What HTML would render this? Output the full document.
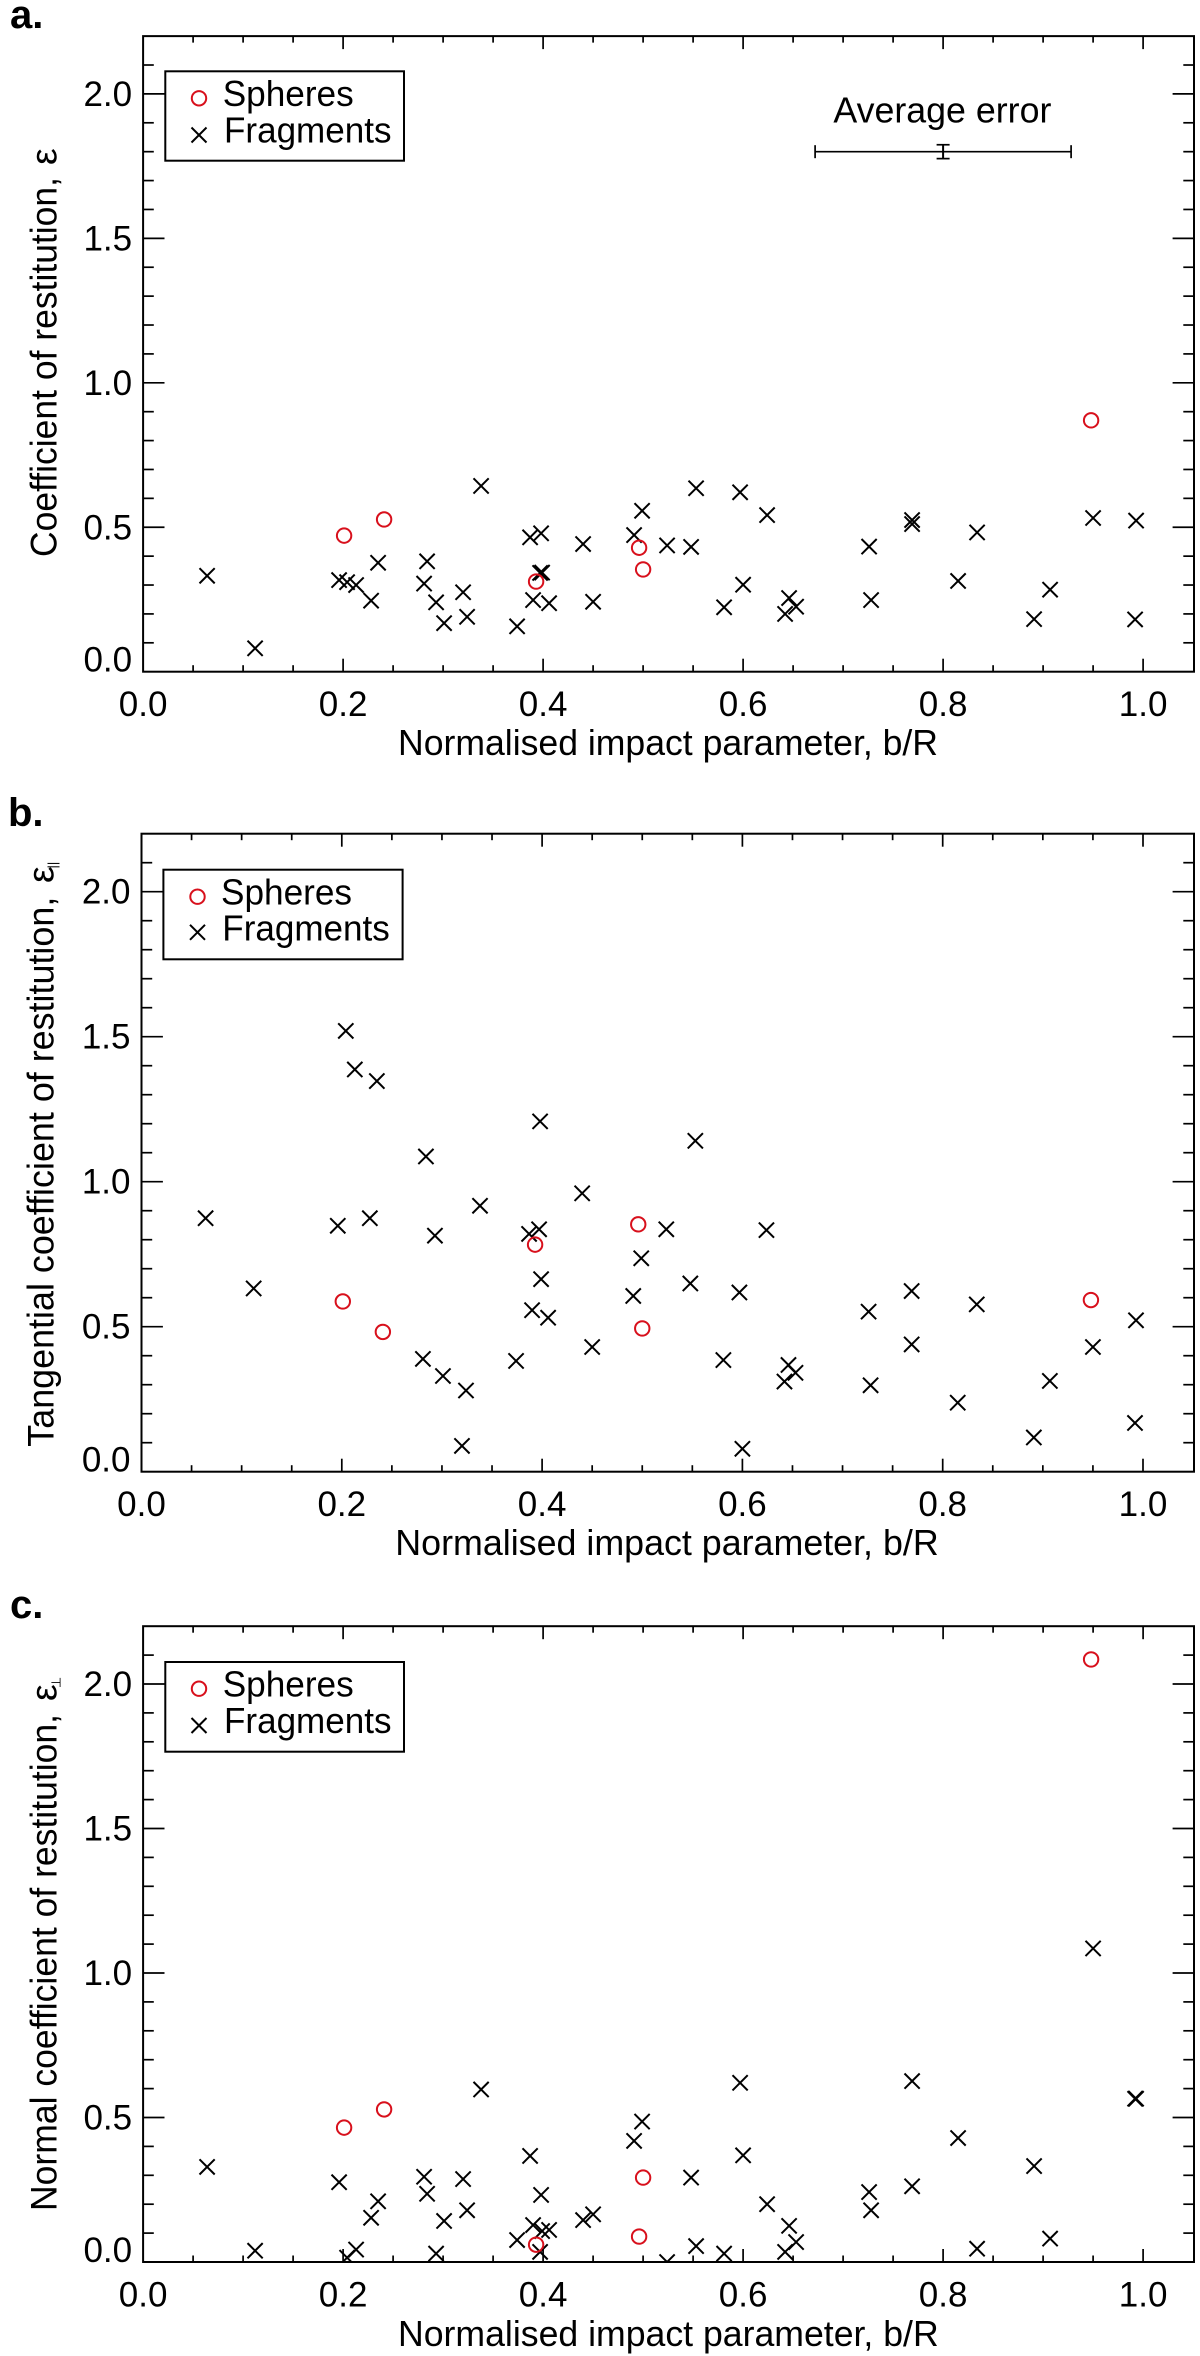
<!DOCTYPE html>
<html lang="en">
<head>
<meta charset="utf-8">
<title>Coefficient of restitution vs normalised impact parameter</title>
<style>
html,body{margin:0;padding:0;background:#fff;}
svg{display:block;}
text{font-family:"Liberation Sans","DejaVu Sans",sans-serif;fill:#000;}
</style>
</head>
<body>
<svg id="figure" xmlns="http://www.w3.org/2000/svg" width="1200" height="2356" viewBox="0 0 1200 2356">
  <rect x="0" y="0" width="1200" height="2356" fill="#fff"/>
  <defs>
    <clipPath id="clip-a"><rect x="143.1" y="35.7" width="1050.9" height="636"/></clipPath>
    <clipPath id="clip-b"><rect x="141.5" y="833.7" width="1052.5" height="638"/></clipPath>
    <clipPath id="clip-c"><rect x="143.1" y="1626.2" width="1050.9" height="635.8"/></clipPath>
  </defs>

  <text x="10" y="28" font-size="40" font-weight="bold">a.</text>
  <text x="8" y="826" font-size="40" font-weight="bold">b.</text>
  <text x="10" y="1618" font-size="40" font-weight="bold">c.</text>

  <g id="panel-a">
    <text transform="translate(56.6,557) rotate(-90)" font-size="37.5" textLength="380" lengthAdjust="spacingAndGlyphs">Coefficient of restitution,</text>
    <text transform="translate(56.6,165) rotate(-90)" font-size="37.5">ε</text>
    <text x="398" y="755" font-size="36" textLength="540" lengthAdjust="spacingAndGlyphs">Normalised impact parameter, b/R</text>
    <rect x="165.3" y="71.3" width="238.7" height="89.4" fill="#fff" stroke="#000" stroke-width="2"/>
    <circle cx="199" cy="98.3" r="7.2" fill="none" stroke="#d8101c" stroke-width="2"/>
    <path d="M191.5 127.5L206.5 142.5M206.5 127.5L191.5 142.5" stroke="#000" stroke-width="2" fill="none"/>
    <text x="222.7" y="106" font-size="36" textLength="131" lengthAdjust="spacingAndGlyphs">Spheres</text>
    <text x="224" y="142.3" font-size="36" textLength="167.5" lengthAdjust="spacingAndGlyphs">Fragments</text>
    <text x="833.4" y="122.7" font-size="36" textLength="218" lengthAdjust="spacingAndGlyphs">Average error</text>
  </g>

  <g id="panel-b">
    <text transform="translate(53.6,1446.7) rotate(-90)" font-size="37.5" textLength="550" lengthAdjust="spacingAndGlyphs">Tangential coefficient of restitution,</text>
    <text transform="translate(53.6,883) rotate(-90)" font-size="37.5">ε</text>
    <text transform="translate(57,868.5) rotate(-90)" font-size="13">||</text>
    <text x="395.3" y="1555" font-size="36" textLength="543.4" lengthAdjust="spacingAndGlyphs">Normalised impact parameter, b/R</text>
    <rect x="163.4" y="869.7" width="239.2" height="89.6" fill="#fff" stroke="#000" stroke-width="2"/>
    <circle cx="197.5" cy="896.7" r="7.2" fill="none" stroke="#d8101c" stroke-width="2"/>
    <path d="M190 924.8L205 939.8M205 924.8L190 939.8" stroke="#000" stroke-width="2" fill="none"/>
    <text x="221" y="904.7" font-size="36" textLength="131" lengthAdjust="spacingAndGlyphs">Spheres</text>
    <text x="222.3" y="940.7" font-size="36" textLength="167.5" lengthAdjust="spacingAndGlyphs">Fragments</text>
  </g>

  <g id="panel-c">
    <text transform="translate(56.6,2211) rotate(-90)" font-size="37.5" textLength="497" lengthAdjust="spacingAndGlyphs">Normal coefficient of restitution,</text>
    <text transform="translate(56.6,1701) rotate(-90)" font-size="37.5">ε</text>
    <text transform="translate(60.5,1688) rotate(-90)" font-size="13">⊥</text>
    <text x="398" y="2346" font-size="36" textLength="540.7" lengthAdjust="spacingAndGlyphs">Normalised impact parameter, b/R</text>
    <rect x="165.3" y="1662" width="238.7" height="89.7" fill="#fff" stroke="#000" stroke-width="2"/>
    <circle cx="199" cy="1688.7" r="7.2" fill="none" stroke="#d8101c" stroke-width="2"/>
    <path d="M191.5 1718L206.5 1733M206.5 1718L191.5 1733" stroke="#000" stroke-width="2" fill="none"/>
    <text x="222.7" y="1696.5" font-size="36" textLength="131" lengthAdjust="spacingAndGlyphs">Spheres</text>
    <text x="224" y="1733" font-size="36" textLength="167.5" lengthAdjust="spacingAndGlyphs">Fragments</text>
  </g>
</svg>

<script>
var xTickLabels = ['0.0', '0.2', '0.4', '0.6', '0.8', '1.0'];
var yTickLabels = ['0.0', '0.5', '1.0', '1.5', '2.0'];

var fragmentX = [0.064, 0.112, 0.196, 0.204, 0.213, 0.228, 0.235, 0.281, 0.284, 0.293, 0.301, 0.32, 0.324, 0.338, 0.374, 0.387, 0.39, 0.397, 0.398, 0.399, 0.406, 0.44, 0.45, 0.491, 0.499, 0.524, 0.548, 0.553, 0.581, 0.597, 0.6, 0.624, 0.642, 0.646, 0.653, 0.726, 0.728, 0.769, 0.769, 0.815, 0.834, 0.891, 0.907, 0.95, 0.992, 0.993];
var fragmentsA = [0.332, 0.081, 0.317, 0.31, 0.30, 0.246, 0.377, 0.305, 0.382, 0.24, 0.168, 0.275, 0.19, 0.643, 0.157, 0.465, 0.248, 0.342, 0.479, 0.343, 0.237, 0.442, 0.242, 0.473, 0.557, 0.437, 0.432, 0.635, 0.223, 0.621, 0.301, 0.542, 0.2, 0.255, 0.225, 0.433, 0.248, 0.525, 0.511, 0.314, 0.482, 0.182, 0.284, 0.532, 0.181, 0.523];
var fragmentsB = [0.874, 0.632, 0.848, 1.52, 1.387, 0.874, 1.347, 0.389, 1.087, 0.814, 0.33, 0.089, 0.28, 0.917, 0.382, 0.82, 0.557, 0.836, 1.208, 0.664, 0.531, 0.96, 0.43, 0.606, 0.736, 0.836, 0.649, 1.141, 0.385, 0.618, 0.079, 0.833, 0.311, 0.368, 0.341, 0.552, 0.298, 0.623, 0.439, 0.238, 0.577, 0.118, 0.313, 0.43, 0.168, 0.522];
var fragmentsC = [0.329, 0.039, 0.276, 0.015, 0.043, 0.153, 0.21, 0.295, 0.236, 0.029, 0.142, 0.287, 0.179, 0.597, 0.076, 0.367, 0.128, 0.035, 0.232, 0.107, 0.111, 0.145, 0.165, 0.419, 0.486, 0.0, 0.292, 0.055, 0.029, 0.62, 0.369, 0.2, 0.035, 0.125, 0.069, 0.242, 0.179, 0.626, 0.262, 0.429, 0.046, 0.332, 0.081, 1.085, 0.565, 0.565];

var sphereX = [0.201, 0.241, 0.393, 0.496, 0.5, 0.948];
var spheresA = [0.471, 0.527, 0.312, 0.429, 0.354, 0.87];
var spheresB = [0.587, 0.482, 0.783, 0.853, 0.494, 0.592];
var spheresC = [0.465, 0.528, 0.06, 0.088, 0.292, 2.085];

var errorCentre = [0.8, 1.8];
var errorSpread = [0.128, 0.024];

var NS = 'http://www.w3.org/2000/svg';
var X_MAX = 1.05, Y_MAX = 2.2;

function addLine(parent, x1, y1, x2, y2, w, name) {
  var el = document.createElementNS(NS, 'line');
  el.setAttribute('x1', x1);
  el.setAttribute('y1', y1);
  el.setAttribute('x2', x2);
  el.setAttribute('y2', y2);
  el.setAttribute('stroke', '#000');
  el.setAttribute('stroke-width', w);
  
  
  parent.appendChild(el);
  return el;
}

function addLabel(parent, x, y, anchor, str, name) {
  var el = document.createElementNS(NS, 'text');
  el.setAttribute('x', x);
  el.setAttribute('y', y);
  el.setAttribute('text-anchor', anchor);
  el.setAttribute('font-size', '35');
  
  
  el.textContent = str;
  parent.appendChild(el);
}

function drawPanel(id, clipId, left, right, xPerUnit, bottom, yPerUnit, fragY, sphY) {
  var root = document.getElementById(id);
  var sx = function (v) { return left + v * xPerUnit; };
  var sy = function (v) { return bottom - v * yPerUnit; };
  var top = sy(Y_MAX);

  var marks = document.createElementNS(NS, 'g');
  marks.setAttribute('clip-path', 'url(#' + clipId + ')');
  
  
  root.appendChild(marks);

  var box = document.createElementNS(NS, 'rect');
  box.setAttribute('x', left);
  box.setAttribute('y', top);
  box.setAttribute('width', right - left);
  box.setAttribute('height', bottom - top);
  box.setAttribute('fill', 'none');
  box.setAttribute('stroke', '#000');
  box.setAttribute('stroke-width', '2');
  
  
  root.insertBefore(box, marks);

  for (var i = 1; i <= 20; i++) {
    var xv = i * 0.05;
    var isMajorX = i % 4 === 0;
    var lenX = isMajorX ? 13 : 6.5;
    addLine(root, sx(xv), bottom, sx(xv), bottom - lenX, 1.7, 'x-tick-bottom');
    addLine(root, sx(xv), top, sx(xv), top + lenX, 1.7, 'x-tick-top');
  }
  for (var j = 1; j <= 21; j++) {
    var yv = j * 0.1;
    var isMajorY = j % 5 === 0;
    var lenY = isMajorY ? 21.4 : 10.7;
    addLine(root, left, sy(yv), left + lenY, sy(yv), 1.7, 'y-tick-left');
    addLine(root, right, sy(yv), right - lenY, sy(yv), 1.7, 'y-tick-right');
  }

  xTickLabels.forEach(function (t) {
    addLabel(root, sx(parseFloat(t)), bottom + 44.5, 'middle', t, 'x-tick-label');
  });
  yTickLabels.forEach(function (t) {
    var py = sy(parseFloat(t));
    addLabel(root, left - 11, Math.min(py + 12, bottom), 'end', t, 'y-tick-label');
  });

  fragmentX.forEach(function (xVal, k) {
    var cx = sx(xVal), cy = sy(fragY[k]), h = 7.6;
    var el = document.createElementNS(NS, 'path');
    el.setAttribute('d', 'M' + (cx - h) + ' ' + (cy - h) + 'L' + (cx + h) + ' ' + (cy + h) + 'M' + (cx + h) + ' ' + (cy - h) + 'L' + (cx - h) + ' ' + (cy + h));
    el.setAttribute('stroke', '#000');
    el.setAttribute('stroke-width', '2');
    el.setAttribute('fill', 'none');
    
    
    marks.appendChild(el);
  });

  sphereX.forEach(function (xVal, k) {
    var el = document.createElementNS(NS, 'circle');
    el.setAttribute('cx', sx(xVal));
    el.setAttribute('cy', sy(sphY[k]));
    el.setAttribute('r', '7.2');
    el.setAttribute('fill', 'none');
    el.setAttribute('stroke', '#d8101c');
    el.setAttribute('stroke-width', '2');
    
    
    marks.appendChild(el);
  });

  return { sx: sx, sy: sy, root: root };
}

var panelA = drawPanel('panel-a', 'clip-a', 143.1, 1194, 1000, 671.7, 288.9, fragmentsA, spheresA);
drawPanel('panel-b', 'clip-b', 141.5, 1194, 1001.5, 1471.7, 290, fragmentsB, spheresB);
drawPanel('panel-c', 'clip-c', 143.1, 1194, 1000, 2262, 289, fragmentsC, spheresC);

var ex1 = panelA.sx(errorCentre[0] - errorSpread[0]);
var ex2 = panelA.sx(errorCentre[0] + errorSpread[0]);
var exc = panelA.sx(errorCentre[0]);
var ey = panelA.sy(errorCentre[1]);
var ey1 = panelA.sy(errorCentre[1] + errorSpread[1]);
var ey2 = panelA.sy(errorCentre[1] - errorSpread[1]);
addLine(panelA.root, ex1, ey, ex2, ey, 1.7, 'average-error-horizontal-bar');
addLine(panelA.root, ex1, ey - 6.5, ex1, ey + 6.5, 1.7, 'average-error-left-cap');
addLine(panelA.root, ex2, ey - 6.5, ex2, ey + 6.5, 1.7, 'average-error-right-cap');
addLine(panelA.root, exc, ey1, exc, ey2, 2, 'average-error-vertical-bar');
addLine(panelA.root, exc - 6.5, ey1, exc + 6.5, ey1, 1.7, 'average-error-top-cap');
addLine(panelA.root, exc - 6.5, ey2, exc + 6.5, ey2, 1.7, 'average-error-bottom-cap');
</script>
</body>
</html>
